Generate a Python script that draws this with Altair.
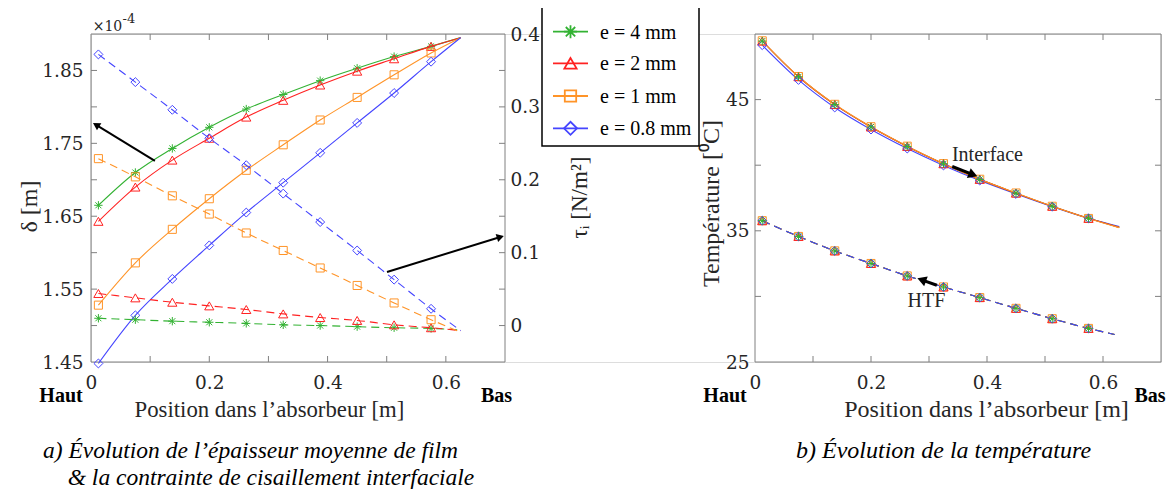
import math
import altair as alt
import pandas as pd

# ---------------- data ----------------
pos = [0.0125, 0.075, 0.1375, 0.2, 0.2625, 0.325, 0.3875, 0.45, 0.5125, 0.575]
pos_end = 0.625
labels = ["e = 4 mm", "e = 2 mm", "e = 1 mm", "e = 0.8 mm"]

# mean film thickness delta (x 1e-4 m), last value = end of the curve
delta_4mm = [1.665, 1.710, 1.743, 1.772, 1.797, 1.817, 1.836, 1.853, 1.869, 1.883, 1.895]
delta_2mm = [1.643, 1.690, 1.727, 1.757, 1.786, 1.809, 1.830, 1.849, 1.866, 1.883, 1.895]
delta_1mm = [1.528, 1.586, 1.632, 1.674, 1.713, 1.748, 1.782, 1.813, 1.844, 1.874, 1.895]
delta_08mm = [1.448, 1.514, 1.564, 1.610, 1.655, 1.696, 1.737, 1.778, 1.819, 1.862, 1.895]

# interfacial shear stress tau_i (N/m2)
tau_4mm = [0.010, 0.008, 0.006, 0.0045, 0.003, 0.001, 0.000, -0.0015, -0.003, -0.004, -0.006]
tau_2mm = [0.044, 0.038, 0.032, 0.027, 0.022, 0.016, 0.011, 0.007, 0.001, -0.003, -0.007]
tau_1mm = [0.229, 0.204, 0.178, 0.153, 0.127, 0.103, 0.079, 0.055, 0.031, 0.008, -0.009]
tau_08mm = [0.372, 0.334, 0.296, 0.257, 0.220, 0.181, 0.142, 0.103, 0.063, 0.023, -0.007]

# temperatures (deg C)
temp_end_if = 0.628
temp_end_htf = 0.62
temp_if_4mm = [49.46, 46.74, 44.62, 42.91, 41.43, 40.11, 38.92, 37.87, 36.87, 35.95, 35.26]
temp_if_2mm = [49.46, 46.74, 44.62, 42.91, 41.43, 40.11, 38.92, 37.87, 36.87, 35.95, 35.26]
temp_if_1mm = [49.48, 46.76, 44.64, 42.93, 41.45, 40.12, 38.93, 37.88, 36.87, 35.94, 35.24]
temp_if_08mm = [49.15, 46.50, 44.40, 42.72, 41.27, 39.98, 38.83, 37.81, 36.84, 35.95, 35.32]
temp_htf_4mm = [35.77, 34.57, 33.47, 32.51, 31.56, 30.72, 29.91, 29.09, 28.30, 27.56, 27.10]
temp_htf_2mm = [35.77, 34.57, 33.47, 32.51, 31.56, 30.72, 29.91, 29.09, 28.30, 27.56, 27.10]
temp_htf_1mm = [35.77, 34.57, 33.47, 32.51, 31.56, 30.72, 29.91, 29.09, 28.30, 27.56, 27.10]
temp_htf_08mm = [35.77, 34.57, 33.47, 32.51, 31.56, 30.72, 29.91, 29.09, 28.30, 27.56, 27.10]

x_ticks_minor = [0.1, 0.2, 0.3, 0.4, 0.5, 0.6]
x_tick_labels = [0, 0.2, 0.4, 0.6]
delta_ticks_minor = [1.5, 1.55, 1.6, 1.65, 1.7, 1.75, 1.8, 1.85]
delta_tick_labels = [1.45, 1.55, 1.65, 1.75, 1.85]
tau_ticks_minor = [0.0, 0.05, 0.1, 0.15, 0.2, 0.25, 0.3, 0.35]
tau_tick_labels = [0, 0.1, 0.2, 0.3, 0.4]
temp_ticks_minor = [30, 35, 40, 45]
temp_tick_labels = [25, 35, 45]

# ---------------- style / layout ----------------
W, H = 1070, 328
LX = [0, 414]
RX = [664, 1070]
XDOM = [0, 0.7]
DDOM = [1.45, 1.9]
TDOM = [-0.05, 0.4]
KDOM = [25, 50]
GRAY = "#808080"
TXT = "#262626"
STAR = "M-1,0L1,0M0,-1L0,1M-0.72,-0.72L0.72,0.72M-0.72,0.72L0.72,-0.72"
colors = ["#33b233", "#ff2222", "#ff9428", "#4545ff"]
shapes = [STAR, "triangle-up", "square", "diamond"]
msize = [70, 85, 65, 80]
DASH = [8, 5]

sx_left = alt.Scale(domain=XDOM, range=LX, nice=False, zero=False)
sx_right = alt.Scale(domain=XDOM, range=RX, nice=False, zero=False)
sy_delta = alt.Scale(domain=DDOM, nice=False, zero=False)
sy_tau = alt.Scale(domain=TDOM, nice=False, zero=False)
sy_temp = alt.Scale(domain=KDOM, nice=False, zero=False)

common = dict(labelFont="DejaVu Serif", labelFontSize=18.5, labelColor=TXT,
              domain=False, ticks=False, tickSize=0, grid=False,
              labelFlush=False, labelOverlap=False,
              titleFont="Liberation Serif",
              titleFontWeight="normal", titleColor=TXT)

ax_x_left = alt.Axis(orient="bottom", values=x_tick_labels, format="~g", labelPadding=11,
                     title="Position dans l’absorbeur [m]", titleX=178, titleY=54,
                     titleFontSize=22.75,
                     titleBaseline="alphabetic", titleAlign="center", **common)
ax_delta = alt.Axis(orient="left", values=delta_tick_labels, format=".2f", labelPadding=8,
                    title="δ [m]", titleX=-62, titleY=172, titleAngle=270, titleFontSize=24,
                    titleAlign="center", titleBaseline="middle", **common)
ax_tau = alt.Axis(orient="right", offset=-(W - LX[1]), values=tau_tick_labels, format="~g",
                  labelPadding=5, title="τᵢ [N/m²]", titleX=74, titleY=163, titleAngle=270,
                  titleFontSize=23,
                  titleAlign="center", titleBaseline="middle", **common)
ax_x_right = alt.Axis(orient="bottom", values=x_tick_labels, format="~g", labelPadding=11,
                      title="Position dans l’absorbeur [m]", titleX=895, titleY=54,
                      titleFontSize=24,
                      titleBaseline="alphabetic", titleAlign="center", **common)
ax_temp = alt.Axis(orient="left", offset=-RX[0], values=temp_tick_labels, format="d",
                   labelPadding=6, title="Température [⁰C]", titleX=-44, titleY=169,
                   titleAngle=270, titleFontSize=24,
                   titleAlign="center", titleBaseline="middle", **common)


def enc(sx, axx, sy, axy, xf="x", yf="v"):
    return dict(x=alt.X(f"{xf}:Q", scale=sx, axis=axx), y=alt.Y(f"{yf}:Q", scale=sy, axis=axy))


def line_layer(xs_line, vals, sx, axx, sy, axy, color, dashed):
    df = pd.DataFrame({"x": xs_line, "v": vals})
    lk = dict(color=color, strokeWidth=1.1, interpolate="monotone")
    if dashed:
        lk["strokeDash"] = DASH
    return alt.Chart(df).mark_line(**lk).encode(**enc(sx, axx, sy, axy))


def point_layer(vals, sx, axx, sy, axy, color, shape, size):
    df = pd.DataFrame({"x": pos, "v": vals[:len(pos)]})
    return alt.Chart(df).mark_point(shape=shape, color=color, size=size, strokeWidth=1,
                                    filled=False, opacity=1).encode(**enc(sx, axx, sy, axy))


def box_layer(sx, axx, sy, axy, xd, yd):
    df = pd.DataFrame({"x": [xd[0]], "x2": [xd[1]], "v": [yd[0]], "v2": [yd[1]]})
    e = enc(sx, axx, sy, axy)
    return alt.Chart(df).mark_rect(fillOpacity=0, stroke=GRAY, strokeWidth=1).encode(
        **e, x2="x2:Q", y2="v2:Q")


def xtick_layers(vals, sx, axx):
    df = pd.DataFrame({"x": vals})
    X = alt.X("x:Q", scale=sx, axis=axx)
    top = alt.Chart(df).mark_rule(color=GRAY).encode(x=X, y=alt.value(0), y2=alt.value(6))
    bot = alt.Chart(df).mark_rule(color=GRAY).encode(x=X, y=alt.value(H), y2=alt.value(H - 6))
    return [top, bot]


def ytick_layer(vals, sy, axy, x0, x1):
    df = pd.DataFrame({"v": vals})
    return alt.Chart(df).mark_rule(color=GRAY).encode(
        y=alt.Y("v:Q", scale=sy, axis=axy), x=alt.value(x0), x2=alt.value(x1))


def arrow_layers(tail, head, xdom, xrng, ydom, sx, axx, sy, axy, width, size):
    fx = lambda x: xrng[0] + (x - xdom[0]) / (xdom[1] - xdom[0]) * (xrng[1] - xrng[0])
    fy = lambda y: H - (y - ydom[0]) / (ydom[1] - ydom[0]) * H
    ix = lambda px: xdom[0] + (px - xrng[0]) / (xrng[1] - xrng[0]) * (xdom[1] - xdom[0])
    iy = lambda py: ydom[0] + (H - py) / H * (ydom[1] - ydom[0])
    tx, ty = fx(tail[0]), fy(tail[1])
    hx, hy = fx(head[0]), fy(head[1])
    dx, dy = hx - tx, hy - ty
    n = math.hypot(dx, dy)
    ux, uy = dx / n, dy / n
    h = 0.866 * math.sqrt(size) / 2
    cx, cy = hx - ux * h, hy - uy * h
    ang = math.degrees(math.atan2(dx, -dy)) % 360
    rdf = pd.DataFrame({"x": [tail[0]], "v": [tail[1]], "x2": [ix(cx)], "v2": [iy(cy)]})
    pdf = pd.DataFrame({"x": [ix(cx)], "v": [iy(cy)]})
    rule = alt.Chart(rdf).mark_rule(color="black", strokeWidth=width).encode(
        **enc(sx, axx, sy, axy), x2="x2:Q", y2="v2:Q")
    tip = alt.Chart(pdf).mark_point(shape="triangle-up", filled=True, color="black",
                                    size=size, opacity=1, angle=ang).encode(**enc(sx, axx, sy, axy))
    return [rule, tip]


# ---------------- left panel: delta ----------------
delta_series = [delta_4mm, delta_2mm, delta_1mm, delta_08mm]
tau_series = [tau_4mm, tau_2mm, tau_1mm, tau_08mm]

g_delta_layers = [box_layer(sx_left, ax_x_left, sy_delta, ax_delta, XDOM, DDOM)]
g_delta_layers += xtick_layers(x_ticks_minor, sx_left, ax_x_left)
g_delta_layers.append(ytick_layer(delta_ticks_minor, sy_delta, ax_delta, 0, 6))
for vals, c, s, m in zip(delta_series, colors, shapes, msize):
    g_delta_layers.append(line_layer(pos + [pos_end], vals, sx_left, ax_x_left, sy_delta, ax_delta, c, False))
    g_delta_layers.append(point_layer(vals, sx_left, ax_x_left, sy_delta, ax_delta, c, s, m))
g_delta_layers += arrow_layers((0.108, 1.7258), (0.0034, 1.778), XDOM, LX, DDOM,
                               sx_left, ax_x_left, sy_delta, ax_delta, 2, 70)
g_delta_layers += arrow_layers((0.5005, 1.5735), (0.698, 1.623), XDOM, LX, DDOM,
                               sx_left, ax_x_left, sy_delta, ax_delta, 2, 70)
g_delta = alt.layer(*g_delta_layers)

# ---------------- left panel: tau ----------------
g_tau_layers = [ytick_layer(tau_ticks_minor, sy_tau, ax_tau, LX[1] - 6, LX[1])]
for vals, c, s, m in zip(tau_series, colors, shapes, msize):
    g_tau_layers.append(line_layer(pos + [pos_end], vals, sx_left, None, sy_tau, ax_tau, c, True))
    g_tau_layers.append(point_layer(vals, sx_left, None, sy_tau, ax_tau, c, s, m))
g_tau = alt.layer(*g_tau_layers)

# ---------------- right panel: temperature ----------------
temp_if = [temp_if_4mm, temp_if_2mm, temp_if_1mm, temp_if_08mm]
temp_htf = [temp_htf_4mm, temp_htf_2mm, temp_htf_1mm, temp_htf_08mm]
solid_order = [3, 0, 1, 2]   # blue below, orange on top
dash_order = [2, 1, 0, 3]    # blue dashes on top
point_order = [2, 1, 3, 0]   # green stars on top

g_temp_layers = [box_layer(sx_right, ax_x_right, sy_temp, ax_temp, XDOM, KDOM)]
g_temp_layers += xtick_layers(x_ticks_minor, sx_right, ax_x_right)
g_temp_layers.append(ytick_layer(temp_ticks_minor, sy_temp, ax_temp, RX[0], RX[0] + 6))
g_temp_layers.append(ytick_layer(temp_ticks_minor, sy_temp, ax_temp, RX[1] - 6, RX[1]))
for i in solid_order:
    g_temp_layers.append(line_layer(pos + [temp_end_if], temp_if[i], sx_right, ax_x_right,
                                    sy_temp, ax_temp, colors[i], False))
for i in dash_order:
    g_temp_layers.append(line_layer(pos + [temp_end_htf], temp_htf[i], sx_right, ax_x_right,
                                    sy_temp, ax_temp, colors[i], True))
for i in point_order:
    g_temp_layers.append(point_layer(temp_if[i], sx_right, ax_x_right, sy_temp, ax_temp,
                                     colors[i], shapes[i], msize[i]))
    g_temp_layers.append(point_layer(temp_htf[i], sx_right, ax_x_right, sy_temp, ax_temp,
                                     colors[i], shapes[i], msize[i]))
g_temp_layers += arrow_layers((0.340, 39.9), (0.3832, 39.15), XDOM, RX, KDOM,
                              sx_right, ax_x_right, sy_temp, ax_temp, 3, 110)
g_temp_layers += arrow_layers((0.3135, 30.85), (0.280, 31.38), XDOM, RX, KDOM,
                              sx_right, ax_x_right, sy_temp, ax_temp, 3, 110)
ann_df = pd.DataFrame({"x": [0.3395, 0.263], "v": [40.34, 29.17], "t": ["Interface", "HTF"]})
g_temp_layers.append(
    alt.Chart(ann_df).mark_text(align="left", baseline="alphabetic", font="Liberation Serif",
                                fontSize=20, color=TXT).encode(
        **enc(sx_right, ax_x_right, sy_temp, ax_temp), text="t:N"))
g_temp = alt.layer(*g_temp_layers)

# ---------------- decorations: legend, labels, captions ----------------
one = pd.DataFrame({"a": [0]})
deco = []
deco.append(alt.Chart(one).mark_rect(fill="white", stroke="black", strokeWidth=1.5).encode(
    x=alt.value(451), x2=alt.value(608), y=alt.value(-27), y2=alt.value(112)))
leg_rows = [-2.3, 29.3, 62, 94.3]
leg_size = [170, 150, 130, 170]
for lbl, c, s, yy, sz in zip(labels, colors, shapes, leg_rows, leg_size):
    deco.append(alt.Chart(one).mark_rule(color=c, strokeWidth=1.8).encode(
        x=alt.value(462), x2=alt.value(497), y=alt.value(yy)))
    deco.append(alt.Chart(one).mark_point(shape=s, color=c, size=sz, strokeWidth=1.8,
                                          filled=False, opacity=1).encode(
        x=alt.value(479.5), y=alt.value(yy)))
    deco.append(alt.Chart(one).mark_text(align="left", baseline="middle", font="Liberation Serif",
                                         fontSize=20, color="black").encode(
        x=alt.value(509), y=alt.value(yy + 1), text=alt.value(lbl)))


def txt(t, x, y, size, align="center", style="normal", weight="normal", font="Liberation Serif",
        color="black"):
    return alt.Chart(one).mark_text(align=align, baseline="alphabetic", font=font, fontSize=size,
                                    fontStyle=style, fontWeight=weight, color=color).encode(
        x=alt.value(x), y=alt.value(y), text=alt.value(t))


deco.append(txt("×10", 1.7, -3.3, 14, align="left", font="DejaVu Serif", color=TXT))
deco.append(txt("-4", 31.5, -10.7, 13, align="left", font="DejaVu Serif", color=TXT))
deco.append(txt("Haut", -30, 367.7, 20, weight="bold"))
deco.append(txt("Bas", 405.5, 367.7, 20, weight="bold"))
deco.append(txt("Haut", 634, 367.7, 20, weight="bold"))
deco.append(txt("Bas", 1059, 367.7, 20, weight="bold"))
deco.append(txt("a) Évolution de l’épaisseur moyenne de film", 159.5, 424, 23.5, style="italic"))
deco.append(txt("& la contrainte de cisaillement interfaciale", 180, 451, 23.5, style="italic"))
deco.append(txt("b) Évolution de la température", 852.5, 424, 24, style="italic"))
g_deco = alt.layer(*deco)

chart = alt.layer(g_delta, g_tau, g_temp, g_deco).resolve_scale(
    x="independent", y="independent"
).properties(
    width=W, height=H,
    padding={"left": 83, "top": 26, "right": 6, "bottom": 127},
    autosize=alt.AutoSizeParams(type="none"),
).configure_view(stroke=None).configure(background="white")

chart.save("out.html", embed_options={"renderer": "svg", "actions": False})
